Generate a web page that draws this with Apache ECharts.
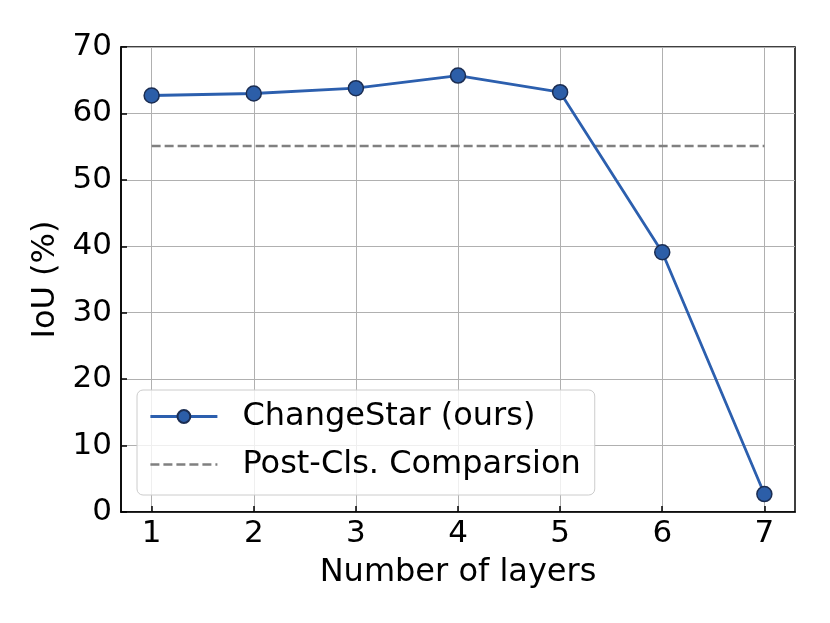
<!DOCTYPE html>
<html>
<head>
<meta charset="utf-8">
<script src="https://cdn.jsdelivr.net/npm/echarts@6/dist/echarts.min.js"></script>
<style>html,body{margin:0;padding:0;background:#fff}#c{width:830px;height:623px}</style>
</head>
<body>
<div id="c"></div>
<script>
const layers = [1, 2, 3, 4, 5, 6, 7];
const changeStar = [62.7, 63.0, 63.8, 65.7, 63.2, 39.1, 2.7];
const postCls = [55.1, 55.1, 55.1, 55.1, 55.1, 55.1, 55.1];
const yTicks = [0, 10, 20, 30, 40, 50, 60, 70];

const font = 'DejaVu Sans';
const chart = echarts.init(document.getElementById('c'), null, {renderer: 'canvas'});
chart.setOption({
  animation: false,
  backgroundColor: '#fff',
  grid: {left: 121, right: 35, top: 47, bottom: 111, show: true, borderColor: '#000', borderWidth: 1.5, backgroundColor: 'transparent'},
  xAxis: {
    type: 'value', min: 0.7, max: 7.3,
    name: 'Number of layers', nameLocation: 'middle', nameGap: 45,
    nameTextStyle: {fontFamily: font, fontSize: 32, color: '#000'},
    axisLine: {show: true, lineStyle: {color: '#000', width: 1.5}},
    axisTick: {show: true, inside: true, length: 6, customValues: layers, lineStyle: {color: '#000', width: 1.5}},
    axisLabel: {customValues: layers, fontFamily: font, fontSize: 31, color: '#000', margin: 6},
    splitLine: {show: true, lineStyle: {color: '#b0b0b0', width: 1}}
  },
  yAxis: {
    type: 'value', min: 0, max: 70, interval: 10,
    name: 'IoU (%)', nameLocation: 'middle', nameGap: 57,
    nameTextStyle: {fontFamily: font, fontSize: 32, color: '#000'},
    axisLine: {show: true, lineStyle: {color: '#000', width: 1.5}},
    axisTick: {show: true, inside: true, length: 6, lineStyle: {color: '#000', width: 1.5}},
    axisLabel: {customValues: yTicks, fontFamily: font, fontSize: 31, color: '#000', margin: 9},
    splitLine: {show: true, lineStyle: {color: '#b0b0b0', width: 1}}
  },
  legend: {
    orient: 'vertical', left: 137, top: 390,
    padding: [8, 14, 12, 12], itemGap: 11, itemWidth: 67, itemHeight: 16,
    backgroundColor: 'rgba(255,255,255,0.8)', borderColor: '#cccccc', borderWidth: 1, borderRadius: 6,
    textStyle: {fontFamily: font, fontSize: 32, color: '#000', lineHeight: 37, padding: [0, 0, 0, 20]},
    data: [
      {name: 'ChangeStar (ours)', lineStyle: {width: 2.8}},
      {name: 'Post-Cls. Comparsion', itemStyle: {opacity: 0}, lineStyle: {width: 2.6}}
    ]
  },
  series: [
    {
      name: 'Post-Cls. Comparsion', type: 'line', symbol: 'none',
      data: layers.map((x, i) => [x, postCls[i]]),
      lineStyle: {color: '#808080', width: 2.6, type: [9, 4]},
      itemStyle: {color: '#808080'}, z: 2
    },
    {
      name: 'ChangeStar (ours)', type: 'line', symbol: 'circle', symbolSize: 15,
      data: layers.map((x, i) => [x, changeStar[i]]),
      lineStyle: {color: '#2c5fae', width: 2.8},
      itemStyle: {color: '#2c5ea8', borderColor: '#1b2d52', borderWidth: 1.5}, z: 3
    }
  ]
});
</script>
</body>
</html>
